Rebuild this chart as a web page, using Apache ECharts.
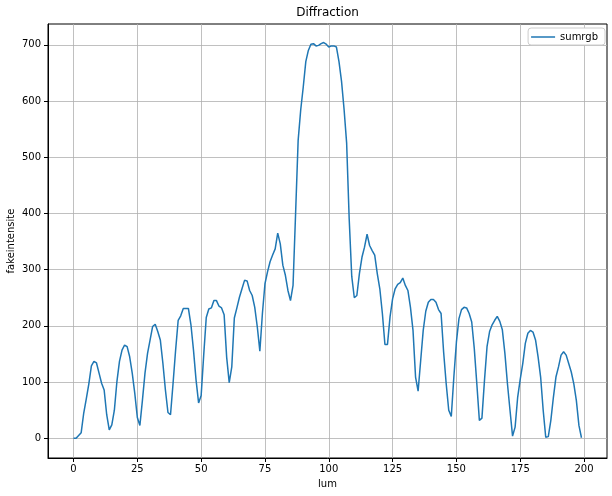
<!DOCTYPE html>
<html><head><meta charset="utf-8">
<script src="https://cdn.jsdelivr.net/npm/echarts@6/dist/echarts.min.js"></script>
<style>html,body{margin:0;padding:0;background:#fff}#c{width:612px;height:496px}</style>
</head><body><div id="c"></div>
<script>
const seriesName = 'sumrgb';
const lum = Array.from({length: 200}, (_, i) => i);
const sumrgb = [
0,0,5,10,45,70,97,129,137,134,116,98,86,42,15,24,50,101,137,157,
166,163,145,116,80,37,23,68,116,151,175,199,203,190,175,134,86,46,42,98,
157,210,218,231,231,231,202,157,104,63,76,148,215,230,232,245,245,235,232,220,
144,99,127,214,232,251,266,281,280,263,254,233,198,155,222,275,296,314,326,337,
365,346,308,290,263,245,272,400,530,584,625,670,690,701,702,698,699,702,704,701,
696,698,698,696,670,635,585,525,390,288,250,254,293,322,340,363,343,334,326,293,
266,222,167,167,216,248,266,274,277,285,272,263,233,192,109,84,138,192,226,242,
247,247,242,229,222,153,97,50,39,109,171,213,229,233,232,222,207,160,97,32,
36,103,163,190,202,210,217,208,193,151,97,50,4,20,73,105,133,169,187,192,
189,175,145,109,50,2,3,32,73,109,127,148,154,148,133,118,97,67,23,1
];
const xTicks = [0,25,50,75,100,125,150,175,200];
const yTicks = [0,100,200,300,400,500,600,700];
const titleText = 'Diffraction';
const xName = 'lum';
const yName = 'fakeintensite';

const chart = echarts.init(document.getElementById('c'), null, {renderer: 'canvas'});
const font = 'DejaVu Sans';
chart.setOption({
  animation: false,
  textStyle: {fontFamily: font},
  graphic: [{type: 'text', x: 327.5, y: 13, style: {text: titleText, font: '12px "DejaVu Sans"', fill: '#000', align: 'center', verticalAlign: 'middle'}}],
  legend: {
    right: 7, top: 28, orient: 'vertical',
    padding: [4, 7, 3, 3],
    borderColor: '#cccccc', borderWidth: 1, borderRadius: 3,
    backgroundColor: '#ffffff',
    itemWidth: 24, itemHeight: 10,
    textStyle: {fontFamily: font, fontSize: 10, color: '#000'},
    data: [{name: seriesName, icon: 'path://M0,4.25 L24,4.25 L24,5.75 L0,5.75 Z'}]
  },
  grid: {left: 48, right: 5, top: 24, bottom: 38, show: true, borderColor: '#000', borderWidth: 1,
    containLabel: false, outerBoundsMode: 'none'},
  xAxis: {
    type: 'value', min: -10, max: 209,
    name: xName, nameLocation: 'middle', nameGap: 21, nameMoveOverlap: false,
    nameTextStyle: {fontFamily: font, fontSize: 10, color: '#000'},
    axisLine: {show: true, onZero: false, lineStyle: {color: '#000', width: 1}},
    axisTick: {show: true, length: 4, customValues: xTicks, lineStyle: {color: '#000'}},
    axisLabel: {fontFamily: font, fontSize: 10, color: '#000', margin: 6, customValues: xTicks},
    splitLine: {show: true, lineStyle: {color: '#b0b0b0', width: 0.8}}
  },
  yAxis: {
    type: 'value', min: -35, max: 737,
    name: yName, nameLocation: 'middle', nameGap: 32, nameMoveOverlap: false,
    nameTextStyle: {fontFamily: font, fontSize: 10, color: '#000'},
    axisLine: {show: true, onZero: false, lineStyle: {color: '#000', width: 1}},
    axisTick: {show: true, length: 4, customValues: yTicks, lineStyle: {color: '#000'}},
    axisLabel: {fontFamily: font, fontSize: 10, color: '#000', margin: 7, customValues: yTicks},
    splitLine: {show: true, lineStyle: {color: '#b0b0b0', width: 0.8}}
  },
  series: [{
    name: seriesName, type: 'line', symbol: 'none',
    data: lum.map((x, i) => [x, sumrgb[i]]),
    lineStyle: {color: '#1f77b4', width: 1.5},
    itemStyle: {color: '#1f77b4'}
  }]
});
</script></body></html>
